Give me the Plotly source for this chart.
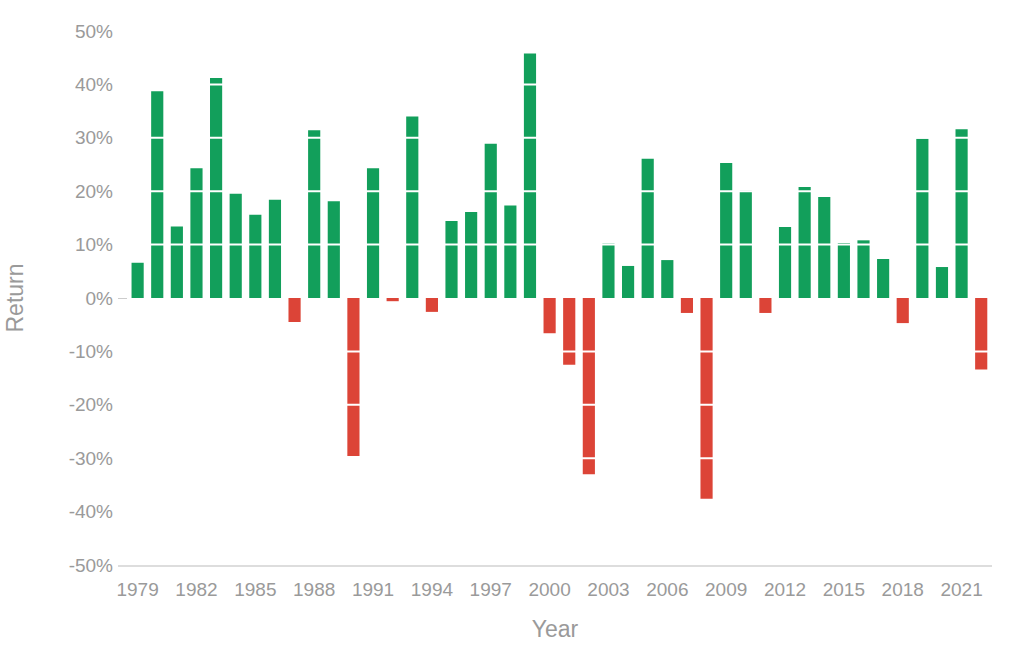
import plotly.graph_objects as go

years = list(range(1979, 2023))
returns = [6.6, 38.7, 13.4, 24.3, 41.2, 19.5, 15.6, 18.4, -4.5, 31.4,
           18.1, -29.6, 24.3, -0.6, 34.0, -2.6, 14.4, 16.1, 28.9, 17.3,
           45.8, -6.6, -12.5, -33.0, 10.2, 6.0, 26.1, 7.1, -2.8, -37.6,
           25.3, 20.1, -2.8, 13.3, 20.8, 18.9, 10.3, 10.8, 7.3, -4.7,
           29.8, 5.8, 31.6, -13.4]
y_ticks = [-50, -40, -30, -20, -10, 0, 10, 20, 30, 40, 50]
y_tick_labels = [f"{v}%" for v in y_ticks]
x_ticks = list(range(1979, 2023, 3))

GREEN = "#129f5b"
RED = "#dc4437"
GRAY = "#9a9a9a"

colors = [GREEN if r >= 0 else RED for r in returns]

fig = go.Figure(go.Bar(x=years, y=returns, marker=dict(color=colors, line=dict(width=0)),
                       width=0.62))

shapes = []
for v in y_ticks:
    if v in (-50, 0, 50):
        continue
    shapes.append(dict(type="line", xref="paper", yref="y", x0=0, x1=1, y0=v, y1=v,
                       line=dict(color="white", width=2), layer="above"))

fig.update_layout(
    width=1024, height=664,
    margin=dict(l=118, r=32, t=31, b=99),
    paper_bgcolor="white", plot_bgcolor="white",
    showlegend=False,
    shapes=shapes,
    font=dict(family="Liberation Sans, Arial, sans-serif", color=GRAY),
    xaxis=dict(
        range=[1978.0, 2022.55],
        tickmode="array", tickvals=x_ticks, ticktext=[str(t) for t in x_ticks],
        tickfont=dict(size=19, color=GRAY),
        showgrid=False, zeroline=False,
        showline=True, linecolor="#dddddd", linewidth=2,
        ticks="", ticklabelstandoff=6,
        title=dict(text="Year", font=dict(size=23, color=GRAY), standoff=22),
    ),
    yaxis=dict(
        range=[-50, 50],
        tickmode="array", tickvals=y_ticks, ticktext=y_tick_labels,
        tickfont=dict(size=19, color=GRAY),
        showgrid=False, zeroline=False, showline=False,
        ticks="inside", ticklen=9, tickcolor="#cccccc", tickwidth=1,
        ticklabelstandoff=4,
        title=dict(text="Return", font=dict(size=23, color=GRAY), standoff=38),
    ),
)

fig.write_html("out.html")
